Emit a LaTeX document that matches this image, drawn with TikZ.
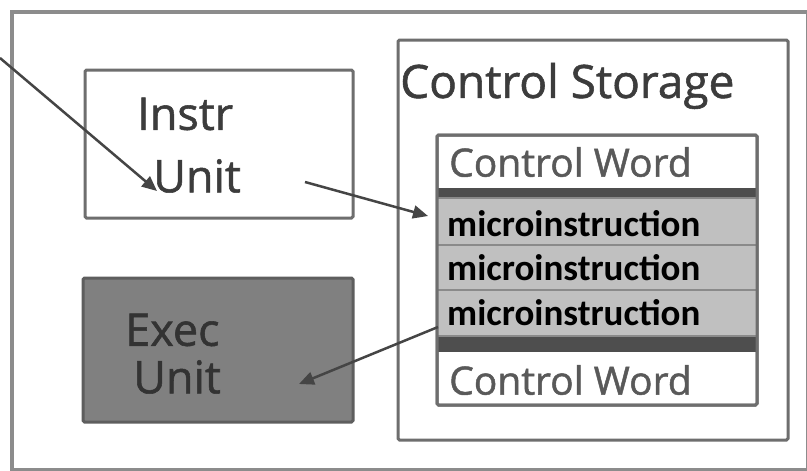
\documentclass[tikz,border=0pt]{standalone}
\usepackage{fontspec}
\setmainfont{Open Sans}[FakeBold=1.2]
\newfontfamily\microfont{Carlito}
\usetikzlibrary{arrows.meta}
\definecolor{framegray}{HTML}{8C8C8C}
\definecolor{boxline}{HTML}{6E6E6E}
\definecolor{txtgray}{HTML}{3C3C3C}
\definecolor{execfill}{HTML}{808080}
\definecolor{execline}{HTML}{5E5E5E}
\definecolor{rowfill}{HTML}{C0C0C0}
\definecolor{rowline}{HTML}{8A8A8A}
\definecolor{bandfill}{HTML}{4E4E4E}
\definecolor{arrowgray}{HTML}{454545}
\tikzset{
  box/.style={draw=boxline, line width=3pt, rounded corners=1.5pt, inner sep=0pt, outer sep=0pt, anchor=north west},
  rowbox/.style={draw=rowline, line width=1.5pt, fill=rowfill, inner sep=0pt, outer sep=0pt, anchor=north west, minimum width=320pt},
  band/.style={fill=bandfill, draw=none, inner sep=0pt, outer sep=0pt, anchor=north west, minimum width=320pt},
  bigtxt/.style={text=txtgray, inner sep=0pt, anchor=west, font=\fontsize{45}{50}\selectfont},
  cwtxt/.style={text=txtgray!85, inner sep=0pt, anchor=west, font=\fontsize{39}{44}\selectfont},
  microtxt/.style={text=black, inner sep=0pt, anchor=west, font=\microfont\bfseries\fontsize{37}{40}\selectfont},
  arr/.style={draw=arrowgray, line width=2.5pt, -{Triangle[length=15pt,width=13pt]}}
}
\begin{document}
\begin{tikzpicture}[x=1pt,y=-1pt]
\useasboundingbox (0,0) rectangle (807,471);
\fill[white] (0,0) rectangle (807,471);
% outer frame
\node[draw=framegray, line width=4pt, inner sep=0pt, anchor=north west, minimum width=796pt, minimum height=458pt] (frame) at (10,10) {};
% instr unit
\node[box, fill=white, minimum width=268pt, minimum height=148pt] (instr) at (85,70) {};
\node[bigtxt] (instrA) at (137,114) {Instr};
\node[bigtxt] (instrB) at (153,176) {Unit};
% exec unit
\node[box, draw=execline, fill=execfill, minimum width=270pt, minimum height=144pt] (exec) at (83,278) {};
\node[bigtxt, text=black!80] (execA) at (125,330) {Exec};
\node[bigtxt, text=black!80] (execB) at (133,377) {Unit};
% control storage
\node[box, fill=white, minimum width=390pt, minimum height=400pt] (cs) at (398,40) {};
\node[text=txtgray, inner sep=0pt, anchor=west, font=\fontsize{46}{50}\selectfont] (cstxt) at (400,86) {Control Storage};
% stack
\node[box, fill=white, minimum width=320pt, minimum height=270pt] (stack) at (437,135) {};
\node[cwtxt] (cw1) at (449,162) {Control Word};
\node[band, minimum height=10pt] (band1) at (437,188) {};
\node[rowbox, minimum height=48pt] (m1) at (437,198) {};
\node[rowbox, minimum height=45pt] (m2) at (437,245) {};
\node[rowbox, minimum height=46pt] (m3) at (437,290) {};
\node[band, minimum height=15pt] (band2) at (437,337) {};
\node[cwtxt] (cw2) at (449,380) {Control Word};
\draw[boxline, line width=3pt, rounded corners=1.5pt] (stack.north west) rectangle (stack.south east);
\node[microtxt] (mt1) at (447,224) {microinstruction};
\node[microtxt] (mt2) at (447,268) {microinstruction};
\node[microtxt] (mt3) at (447,313) {microinstruction};
% arrows
\coordinate (inA) at (0,58);
\coordinate (inB) at (157,191);
\coordinate (outA) at (305,182);
\coordinate (outB) at (428,216);
\coordinate (exA) at (438,327);
\coordinate (exB) at (299,384);
\draw[arr] (inA) -- (inB);
\draw[arr] (outA) -- (outB);
\draw[arr] (exA) -- (exB);
\end{tikzpicture}
\end{document}
